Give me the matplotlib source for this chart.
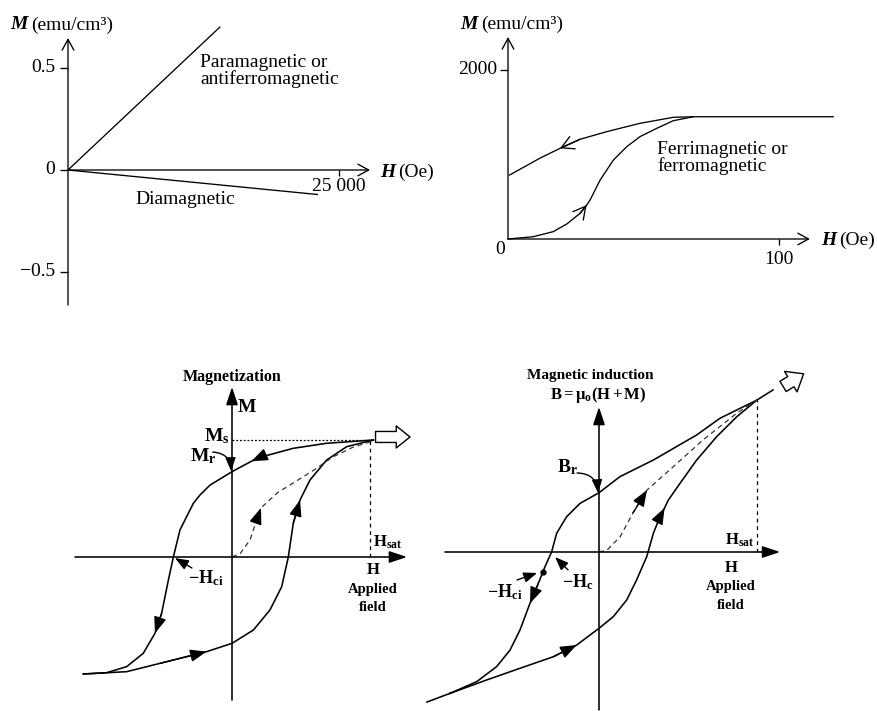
import numpy as np
import matplotlib
matplotlib.use("Agg")
import matplotlib.pyplot as plt
from matplotlib.lines import TICKLEFT, TICKDOWN
from matplotlib.patches import FancyArrowPatch

# ---- top left: linear responses (H in Oe, M in emu/cm3) ----
PARA_H = [0, 14000]
PARA_M = [0, 0.70]
DIA_H = [0, 23000]
DIA_M = [0, -0.12]
TL_YTICKS = [0.5, 0, -0.5]
TL_YLABELS = ["0.5", "0", "\u22120.5"]
TL_XTICK = 25000

# ---- top right: ferro/ferrimagnetic first magnetization ----
FERRO_UP_H = [0, 9.3, 16.7, 21.7, 26.6, 29.0, 30.3, 34.0, 38.9, 43.8, 48.7, 54.9, 61.0, 68.4, 120]
FERRO_UP_M = [0, 27, 87, 178, 304, 400, 462, 698, 935, 1092, 1211, 1310, 1400, 1447, 1447]
FERRO_DOWN_H = [68.4, 61.0, 48.7, 36.4, 26.6, 19.2, 11.7, 0.6]
FERRO_DOWN_M = [1447, 1440, 1369, 1270, 1180, 1073, 955, 757]
TR_YTICK = 2000
TR_XTICK = 100

# ---- bottom left: M-H hysteresis loop (H in units of Hsat, M in units of Ms) ----
MH_DOWN_H = [1.024, 0.686, 0.444, 0.203, 0.14, 0.0, -0.159, -0.232, -0.280, -0.341, -0.377,
             -0.425, -0.461, -0.510, -0.558, -0.643, -0.763, -0.908, -1.077]
MH_DOWN_M = [1.0, 0.972, 0.929, 0.852, 0.818, 0.729, 0.615, 0.530, 0.459, 0.316, 0.231,
             0.0, -0.197, -0.481, -0.652, -0.823, -0.937, -0.989, -1.0]
MH_UP_H = [-1.077, -0.763, -0.522, -0.184, 0.0, 0.155, 0.275, 0.360, 0.408, 0.444, 0.493,
           0.565, 0.686, 0.831, 1.024]
MH_UP_M = [-1.0, -0.980, -0.909, -0.809, -0.738, -0.624, -0.453, -0.254, 0.0, 0.288, 0.487,
           0.658, 0.829, 0.943, 1.0]
MH_VIRGIN_H = [0, 0.06, 0.13, 0.18, 0.21, 0.33, 0.44, 0.59, 0.73, 0.88, 1.0]
MH_VIRGIN_M = [0, 0.03, 0.145, 0.32, 0.42, 0.55, 0.63, 0.74, 0.855, 0.94, 0.983]

# ---- bottom right: B-H hysteresis loop (H in units of Hsat, B in units of B at Hsat) ----
BH_DOWN_H = [1.0, 0.766, 0.618, 0.344, 0.133, 0.0, -0.120, -0.205, -0.268, -0.300, -0.342,
             -0.384, -0.437, -0.500, -0.563, -0.648, -0.774, -0.943]
BH_DOWN_B = [1.0, 0.880, 0.770, 0.605, 0.496, 0.390, 0.320, 0.232, 0.123, 0.0, -0.097,
             -0.206, -0.338, -0.513, -0.645, -0.754, -0.853, -0.930]
BH_UP_H = [-0.943, -0.711, -0.500, -0.289, -0.141, 0.0, 0.091, 0.175, 0.238, 0.302, 0.344,
           0.386, 0.415, 0.439, 0.513, 0.618, 0.745, 0.872, 1.0]
BH_UP_B = [-0.930, -0.842, -0.765, -0.689, -0.612, -0.502, -0.425, -0.316, -0.184, -0.031,
           0.123, 0.232, 0.29, 0.342, 0.452, 0.605, 0.759, 0.890, 1.0]
BH_VIRGIN_H = [0, 0.051, 0.133, 0.215, 0.304, 0.468, 0.658, 0.873, 1.0]
BH_VIRGIN_B = [0, 0.013, 0.099, 0.257, 0.408, 0.559, 0.737, 0.914, 1.0]
BH_EXT_HI_H = [1.0, 1.101]
BH_EXT_HI_B = [1.0, 1.066]
BH_EXT_LO_H = [-0.943, -1.089]
BH_EXT_LO_B = [-0.930, -0.987]

plt.rcParams.update({
    "font.family": "Liberation Serif",
    "mathtext.fontset": "custom",
    "mathtext.rm": "Liberation Serif",
    "mathtext.bf": "Liberation Serif:bold",
    "mathtext.it": "Liberation Serif:italic",
})

W, HP = 877, 711
fig = plt.figure(figsize=(W / 100, HP / 100), dpi=100)
fig.patch.set_facecolor("white")


def panel(box, origin, sx, sy):
    """Axes over a pixel box; origin in pixels, sx/sy = pixels per data unit."""
    x0, y0, x1, y1 = box
    ox, oy = origin
    ax = fig.add_axes([x0 / W, 1 - y1 / HP, (x1 - x0) / W, (y1 - y0) / HP])
    ax.set_xlim((x0 - ox) / sx, (x1 - ox) / sx)
    ax.set_ylim((oy - y1) / sy, (oy - y0) / sy)
    ax.axis("off")
    return ax


def arrow(ax, tail, tip, style, lw=1.0, ms=10, color="k", conn="arc3"):
    ax.annotate("", xy=tip, xytext=tail, annotation_clip=False,
                arrowprops=dict(arrowstyle=style, lw=lw, color=color, connectionstyle=conn,
                                shrinkA=0, shrinkB=0, mutation_scale=ms))


def head_on(ax, xs, ys, i, style, ms=10, lw=1.0):
    """Arrow head at vertex i of a curve, pointing along the curve."""
    arrow(ax, (xs[i - 1], ys[i - 1]), (xs[i], ys[i]), style, lw=lw, ms=ms)


def unit_label(ax, x, y, sym, unit, size=14):
    ax.text(x, y, sym, ha="right", va="center", fontsize=size,
            fontweight="bold", fontstyle="italic", clip_on=False)
    ax.annotate(unit, xy=(x, y), xytext=(2.5, 0), textcoords="offset points",
                ha="left", va="center", fontsize=size, annotation_clip=False)


def field_label(ax, x, ys):
    ax.text(x, ys[0], "H", ha="center", va="center", fontsize=12, fontweight="bold")
    ax.text(x, ys[1], "Applied", ha="center", va="center", fontsize=10.5, fontweight="bold")
    ax.text(x, ys[2], "field", ha="center", va="center", fontsize=10.5, fontweight="bold")


LW_TOP = 0.95
LW_BOT = 1.15
OPEN = "->,head_length=0.55,head_width=0.3"
FILLED = "-|>,head_length=1.0,head_width=0.38"
SMALL = "-|>,head_length=0.9,head_width=0.35"
AXF = "-|>,head_length=0.9,head_width=0.3"
HOLLOW = "simple,head_length=0.45,head_width=0.72,tail_width=0.36"

# ---------------- top left ----------------
ax1 = panel((0, 0, 440, 320), (68, 170), 271 / 25000, 204)
arrow(ax1, (0, 0), (27860, 0), OPEN, lw=LW_TOP, ms=14)
arrow(ax1, (0, -0.662), (0, 0.647), OPEN, lw=LW_TOP, ms=14)
ax1.plot(np.zeros(len(TL_YTICKS)), TL_YTICKS, ls="none", marker=TICKLEFT, ms=6,
         mew=LW_TOP, color="k", clip_on=False)
ax1.plot([TL_XTICK], [0], ls="none", marker=TICKDOWN, ms=4.5, mew=LW_TOP,
         color="k", clip_on=False)
for v, lab in zip(TL_YTICKS, TL_YLABELS):
    ax1.text(-1200, v, lab, ha="right", va="center", fontsize=14)
ax1.text(TL_XTICK, -0.083, "25 000", ha="center", va="center", fontsize=14)
ax1.plot(PARA_H, PARA_M, color="k", lw=LW_TOP, clip_on=False)
ax1.plot(DIA_H, DIA_M, color="k", lw=LW_TOP, clip_on=False)
ax1.text(12177, 0.485, "Paramagnetic or\nantiferromagnetic", ha="left", va="center",
         fontsize=14, linespacing=0.95)
ax1.text(6181, -0.147, "Diamagnetic", ha="left", va="center", fontsize=14)
unit_label(ax1, -3690, 0.711, "M", "(emu/cm\u00b3)")
unit_label(ax1, 30166, -0.01, "H", "(Oe)")

# ---------------- top right ----------------
ax2 = panel((440, 0, 877, 320), (508, 239), 2.71, 169 / 2000)
arrow(ax2, (0, 0), (111.4, 0), OPEN, lw=LW_TOP, ms=14)
arrow(ax2, (0, 0), (0, 2390), OPEN, lw=LW_TOP, ms=14)
ax2.plot([0], [TR_YTICK], ls="none", marker=TICKLEFT, ms=6, mew=LW_TOP,
         color="k", clip_on=False)
ax2.plot([TR_XTICK], [0], ls="none", marker=TICKDOWN, ms=4.5, mew=LW_TOP,
         color="k", clip_on=False)
ax2.text(-4.06, TR_YTICK, "2000", ha="right", va="center", fontsize=14)
ax2.text(-2.95, -130, "0", ha="center", va="center", fontsize=14)
ax2.text(TR_XTICK, -248, "100", ha="center", va="center", fontsize=14)
ax2.plot(FERRO_UP_H, FERRO_UP_M, color="k", lw=LW_TOP, clip_on=False)
ax2.plot(FERRO_DOWN_H, FERRO_DOWN_M, color="k", lw=LW_TOP, clip_on=False)
head_on(ax2, FERRO_UP_H, FERRO_UP_M, 5, OPEN, ms=16, lw=LW_TOP)
head_on(ax2, FERRO_DOWN_H, FERRO_DOWN_M, 5, OPEN, ms=16, lw=LW_TOP)
ax2.text(55, 958, "Ferrimagnetic or\nferromagnetic", ha="left", va="center",
         fontsize=14, linespacing=0.95)
unit_label(ax2, -11.07, 2544, "M", "(emu/cm\u00b3)")
unit_label(ax2, 121, -12, "H", "(Oe)")

# ---------------- bottom left ----------------
ax3 = panel((40, 360, 440, 711), (232, 557), 138, 117)
arrow(ax3, (-1.138, 0), (1.268, 0), AXF, lw=LW_BOT, ms=12)
arrow(ax3, (0, -1.222), (0, 1.453), AXF, lw=LW_BOT, ms=12)
ax3.plot([0, 1.02], [1.0, 1.0], color="k", lw=0.9, ls=(0, (1.5, 1.5)), clip_on=False)
ax3.plot([1.0, 1.0], [0, 1.0], color="k", lw=0.9, ls=(0, (3, 3)), clip_on=False)
ax3.plot(MH_DOWN_H, MH_DOWN_M, color="k", lw=LW_BOT, clip_on=False)
ax3.plot(MH_UP_H, MH_UP_M, color="k", lw=LW_BOT, clip_on=False)
ax3.plot(MH_VIRGIN_H, MH_VIRGIN_M, color="#333333", lw=0.9, ls=(0, (4, 3)), clip_on=False)
head_on(ax3, MH_DOWN_H, MH_DOWN_M, 4, FILLED)
head_on(ax3, MH_DOWN_H, MH_DOWN_M, 14, FILLED)
head_on(ax3, MH_UP_H, MH_UP_M, 3, FILLED)
head_on(ax3, MH_UP_H, MH_UP_M, 10, FILLED)
head_on(ax3, MH_VIRGIN_H, MH_VIRGIN_M, 4, FILLED)
ax3.add_patch(FancyArrowPatch((1.02, 1.026), (1.31, 1.026), arrowstyle=HOLLOW,
                              mutation_scale=22, fc="white", ec="k", lw=1.0, clip_on=False))
ax3.text(0, 1.538, "Magnetization", ha="center", va="center", fontsize=11.5, fontweight="bold")
ax3.text(0.043, 1.282, "M", ha="left", va="center", fontsize=14, fontweight="bold")
ax3.text(-0.02, 1.03, r"$\mathbf{M_s}$", ha="right", va="center", fontsize=14)
ax3.text(-0.304, 0.86, r"$\mathbf{M_r}$", ha="left", va="center", fontsize=14)
arrow(ax3, (-0.14, 0.897), (-0.007, 0.735), SMALL, ms=9, conn="arc3,rad=-0.45")
ax3.text(1.022, 0.128, r"$\mathbf{H_{sat}}$", ha="left", va="center", fontsize=12)
field_label(ax3, 1.02, [-0.11, -0.275, -0.43])
ax3.text(-0.319, -0.179, r"$\mathbf{-H_{ci}}$", ha="left", va="center", fontsize=13)
arrow(ax3, (-0.29, -0.094), (-0.413, -0.009), SMALL, ms=9)

# ---------------- bottom right ----------------
ax4 = panel((420, 360, 877, 711), (599, 552), 158, 152)
arrow(ax4, (-0.975, 0), (1.146, 0), AXF, lw=LW_BOT, ms=12)
arrow(ax4, (0, -1.039), (0, 0.954), AXF, lw=LW_BOT, ms=12)
ax4.plot([1.0, 1.0], [0, 1.0], color="k", lw=0.9, ls=(0, (3, 3)), clip_on=False)
ax4.plot(BH_DOWN_H, BH_DOWN_B, color="k", lw=LW_BOT, clip_on=False)
ax4.plot(BH_UP_H, BH_UP_B, color="k", lw=LW_BOT, clip_on=False)
ax4.plot(BH_EXT_HI_H, BH_EXT_HI_B, color="k", lw=LW_BOT, clip_on=False)
ax4.plot(BH_EXT_LO_H, BH_EXT_LO_B, color="k", lw=LW_BOT, clip_on=False)
ax4.plot(BH_VIRGIN_H, BH_VIRGIN_B, color="#333333", lw=0.9, ls=(0, (4, 3)), clip_on=False)
head_on(ax4, BH_DOWN_H, BH_DOWN_B, 12, FILLED)
head_on(ax4, BH_UP_H, BH_UP_B, 4, FILLED)
head_on(ax4, BH_UP_H, BH_UP_B, 12, FILLED)
head_on(ax4, BH_VIRGIN_H, BH_VIRGIN_B, 4, FILLED)
ax4.plot([-0.354], [-0.13], "o", color="k", ms=3.5, clip_on=False)
ax4.add_patch(FancyArrowPatch((1.15, 1.08), (1.31, 1.182), arrowstyle=HOLLOW,
                              mutation_scale=24, fc="white", ec="k", lw=1.0, clip_on=False))
ax4.text(-0.057, 1.164, "Magnetic induction", ha="center", va="center", fontsize=11,
         fontweight="bold")
ax4.text(-0.003, 1.033, r"$\mathbf{B = \mu_o(H + M)}$", ha="center", va="center", fontsize=12)
ax4.text(-0.266, 0.559, r"$\mathbf{B_r}$", ha="left", va="center", fontsize=14)
arrow(ax4, (-0.139, 0.52), (-0.006, 0.388), SMALL, ms=9, conn="arc3,rad=-0.45")
ax4.text(0.797, 0.079, r"$\mathbf{H_{sat}}$", ha="left", va="center", fontsize=12)
field_label(ax4, 0.835, [-0.105, -0.23, -0.349])
ax4.text(-0.234, -0.197, r"$\mathbf{-H_c}$", ha="left", va="center", fontsize=13)
arrow(ax4, (-0.196, -0.118), (-0.278, -0.033), SMALL, ms=9)
ax4.text(-0.709, -0.263, r"$\mathbf{-H_{ci}}$", ha="left", va="center", fontsize=13)
arrow(ax4, (-0.519, -0.184), (-0.392, -0.138), SMALL, ms=9)

fig.savefig("out.png", dpi=100, facecolor="white")
